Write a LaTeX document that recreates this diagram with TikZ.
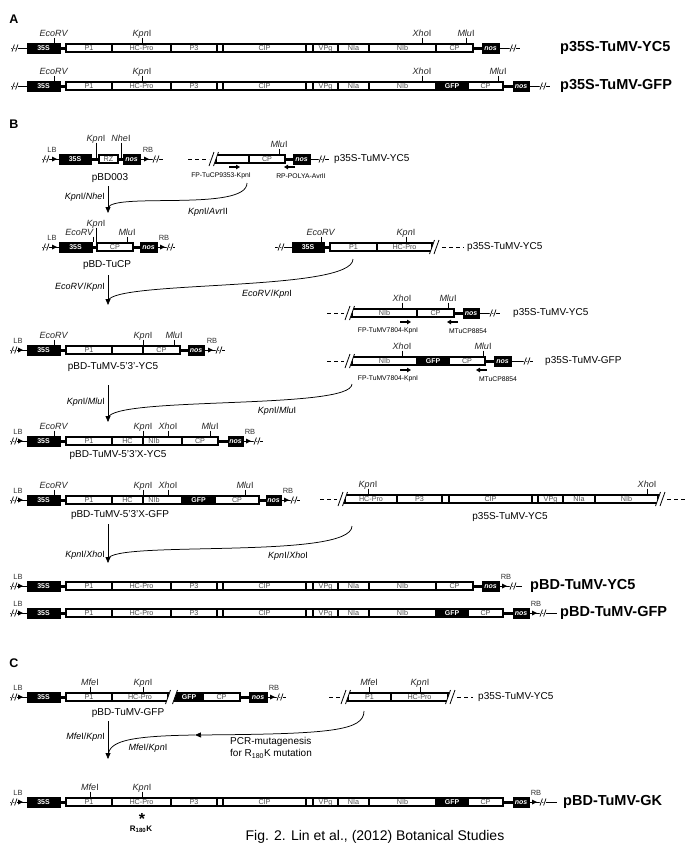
\documentclass[tikz,border=0pt]{standalone}
\usepackage{fontspec}
\setmainfont{Liberation Sans}
\usetikzlibrary{arrows.meta}
\newcommand{\Kpn}{\textit{Kpn}I}
\newcommand{\Eco}{\textit{EcoRV}}
\newcommand{\Xho}{\textit{Xho}I}
\newcommand{\Mlu}{\textit{Mlu}I}
\newcommand{\Nhe}{\textit{Nhe}I}
\newcommand{\Mfe}{\textit{Mfe}I}
\newcommand{\Avr}{\textit{Avr}II}
\newcommand{\ws}[5]{\node[wseg, minimum width={(#3-#2)*1pt}] (#1) at ({(#2+#3)/2},#4) {#5};}
\newcommand{\bs}[5]{\node[bseg, minimum width={(#3-#2)*1pt}] (#1) at ({(#2+#3)/2},#4) {#5};}
\newcommand{\gs}[5]{\node[gseg, minimum width={(#3-#2)*1pt}] (#1) at ({(#2+#3)/2},#4) {#5};}
\newcommand{\site}[6]{\node[sitel] (#1) at (#2,#3-#5) {#4};\draw[tickl] ([yshift=-1.5pt]#1.base) -- (#2,#3-#6);}
\newcommand{\slsm}[2]{%
 \draw[white,line width=2.4pt] (#1-3,#2+3.5) -- (#1-0.6,#2-3.5) (#1+0.6,#2+3.5) -- (#1+3,#2-3.5);
 \draw[line width=0.7pt] (#1-3,#2+3.5) -- (#1-0.6,#2-3.5) (#1+0.6,#2+3.5) -- (#1+3,#2-3.5);}
\newcommand{\cutL}[2]{\fill[white] (#1-1,#2-5.4) -- (#1+1.93,#2-5.4) -- (#1-1,#2+2.8) -- cycle; \draw[line width=0.8pt] (#1-2.5,#2+7) -- (#1+2.5,#2-7);}
\newcommand{\cutR}[2]{\fill[white] (#1+1,#2+5.4) -- (#1-1.93,#2+5.4) -- (#1+1,#2-2.8) -- cycle; \draw[line width=0.8pt] (#1-2.5,#2+7) -- (#1+2.5,#2-7);}
\newcommand{\brkL}[2]{\cutL{#1}{#2}\draw[line width=0.8pt] (#1-7,#2+7) -- (#1-2,#2-7);}
\newcommand{\brkR}[2]{\cutR{#1}{#2}\draw[line width=0.8pt] (#1+2,#2+7) -- (#1+7,#2-7);}
\newcommand{\LBend}[6]{% name, xstart, xslash, xtip, xbox, y
 \draw[thinl] (#2,#6) -- (#5,#6);
 \fill (#4,#6) -- (#4-5,#6-2.5) -- (#4-5,#6+2.5) -- cycle;
 \slsm{#3}{#6}
 \node[bordl] (#1) at (#4-5,#6-7) {LB};}
\newcommand{\RBend}[6]{% name, xbox, xtip, xslash, xend, y
 \draw[thinl] (#2,#6) -- (#5,#6);
 \fill (#3,#6) -- (#3-5,#6-2.5) -- (#3-5,#6+2.5) -- cycle;
 \slsm{#4}{#6}
 \node[bordl] (#1) at (#3-1,#6-7) {RB};}
\newcommand{\fullcore}[2]{%
 \draw[linkl] (60,#2) -- (66,#2);
 \bs{#1s}{27}{60}{#2}{35S}
 \ws{#1p1}{66}{112}{#2}{P1}
 \ws{#1hc}{112}{171}{#2}{HC-Pro}
 \ws{#1p3}{171}{217}{#2}{P3}
 \ws{#1ka}{217}{223}{#2}{}
 \ws{#1ci}{223}{306}{#2}{CIP}
 \ws{#1kb}{306}{313}{#2}{}
 \ws{#1vp}{313}{338}{#2}{VPg}
 \ws{#1na}{338}{369}{#2}{NIa}
 \ws{#1nb}{369}{436}{#2}{NIb}}
\newcommand{\tailYC}[2]{%
 \draw[linkl] (473,#2) -- (482,#2);
 \ws{#1cp}{436}{473}{#2}{CP}
 \bs{#1no}{482}{499}{#2}{\textit{nos}}}
\newcommand{\tailGFP}[2]{%
 \draw[linkl] (503,#2) -- (513,#2);
 \gs{#1gf}{436}{468}{#2}{GFP}
 \ws{#1cp}{468}{503}{#2}{CP}
 \bs{#1no}{513}{529}{#2}{\textit{nos}}}
\begin{document}
\begin{tikzpicture}[x=1pt,y=-1pt,
 wseg/.style={draw=black, line width=1.1pt, fill=white, inner sep=0pt, minimum height=8pt, text height=5.6pt, text depth=1.2pt, font=\fontsize{7.2}{7.5}\selectfont, text=black!70},
 bseg/.style={draw=black, line width=0.4pt, fill=black, inner sep=0pt, minimum height=10pt, text height=5.6pt, text depth=1.2pt, text=white, font=\fontsize{7}{7.5}\selectfont\bfseries},
 gseg/.style={draw=black, line width=1.1pt, fill=black, inner sep=0pt, minimum height=8pt, text height=5.6pt, text depth=1.2pt, text=white, font=\fontsize{7}{7.5}\selectfont\bfseries},
 segtxt/.style={inner sep=0pt, text height=5.6pt, text depth=1.2pt, font=\fontsize{7.2}{7.5}\selectfont, text=black!70},
 linkl/.style={line width=3pt},
 thinl/.style={line width=0.8pt},
 dashl/.style={line width=0.8pt, dash pattern=on 4pt off 3pt},
 tickl/.style={line width=0.8pt},
 sitel/.style={font=\fontsize{9}{10}\selectfont, inner sep=0pt, anchor=base, text=black!85},
 bordl/.style={font=\fontsize{7.5}{8}\selectfont, inner sep=0pt, anchor=base, text=black!80},
 nml/.style={font=\fontsize{10}{11}\selectfont, inner sep=0pt},
 bignml/.style={font=\fontsize{14.5}{16}\selectfont\bfseries, anchor=west, inner sep=0pt},
 priml/.style={font=\fontsize{6.8}{7.5}\selectfont, inner sep=0pt},
 enzl/.style={font=\fontsize{9}{10}\selectfont, inner sep=0pt},
 flowl/.style={line width=0.75pt},
 flowarr/.style={line width=0.75pt, -{Triangle[width=5pt,length=6pt]}},
 primarr/.style={line width=1.3pt, -{Triangle[width=4.5pt,length=4pt]}},
 secl/.style={font=\fontsize{12.5}{14}\selectfont\bfseries, inner sep=0pt},
]
\useasboundingbox (0,0) rectangle (685,847);
\fill[white] (0,0) rectangle (685,847);

% ===== A =====
\node[secl] (lA) at (14,19) {A};
\draw[thinl] (11,48) -- (27,48); \slsm{15}{48}
\fullcore{a}{48}\tailYC{a}{48}
\draw[thinl] (499,48) -- (520,48); \slsm{513}{48}
\site{aS1}{54}{48}{\Eco}{12}{5}
\site{aS2}{142}{48}{\Kpn}{12}{4}
\site{aS3}{422}{48}{\Xho}{12}{4}
\site{aS4}{466}{48}{\Mlu}{12}{4}
\node[bignml] (aN) at (560,48) {p35S-TuMV-YC5};

\draw[thinl] (11,86) -- (27,86); \slsm{15}{86}
\fullcore{b}{86}\tailGFP{b}{86}
\draw[thinl] (529,86) -- (550,86); \slsm{543}{86}
\site{bS1}{54}{86}{\Eco}{12}{5}
\site{bS2}{142}{86}{\Kpn}{12}{4}
\site{bS3}{422}{86}{\Xho}{12}{4}
\site{bS4}{498}{86}{\Mlu}{12}{4}
\node[bignml] (bN) at (560,86) {p35S-TuMV-GFP};

% ===== B =====
\node[secl] (lB) at (14,124) {B};
% pBD003
\LBend{cL}{42}{46}{57}{59}{159}
\draw[linkl] (90,159) -- (99,159); \draw[linkl] (118,159) -- (123,159);
\bs{cs}{59}{91}{159}{35S}
\ws{crz}{99}{118}{159}{RZ}
\bs{cno}{123}{140}{159}{\textit{nos}}
\RBend{cR}{140}{149}{156}{163}{159}
\site{cS1}{96}{159}{\Kpn}{18}{1.5}
\site{cS2}{121}{159}{\Nhe}{18}{1.5}
\node[nml] (cN) at (110,178) {pBD003};
% CP fragment
\draw[dashl] (188,159) -- (209,159);
\ws{dx}{216}{249}{159}{}
\ws{dcp}{249}{285}{159}{CP}
\brkL{216}{159}
\draw[linkl] (285,159) -- (293,159);
\bs{dno}{293}{310}{159}{\textit{nos}}
\draw[thinl] (310,159) -- (329,159); \slsm{322}{159}
\site{dS1}{279}{159}{\Mlu}{12}{4}
\node[nml, anchor=west] (dN) at (334,159) {p35S-TuMV-YC5};
\draw[primarr] (229,167) -- (240,167);
\draw[primarr] (295,167) -- (284,167);
\node[priml] (dP1) at (221,176) {FP-TuCP9353-KpnI};
\node[priml] (dP2) at (301,176) {RP-POLYA-AvrII};
% arrow 1
\coordinate (s1) at (108,186); \coordinate (t1) at (108,213); \coordinate (c1) at (247,183);
\draw[flowarr] (s1) -- (t1);
\draw[flowl] (c1) .. controls (247,212) and (112,192) .. ([yshift=5pt]t1);
\node[enzl, anchor=east] (e1a) at (105,197) {\Kpn/\Nhe};
\node[enzl] (e1b) at (208,212) {\Kpn/\Avr};

% pBD-TuCP
\LBend{eL}{42}{46}{57}{59}{247}
\draw[linkl] (92,247) -- (97,247); \draw[linkl] (133,247) -- (140,247);
\bs{es}{59}{92}{247}{35S}
\ws{ecp}{97}{133}{247}{CP}
\bs{eno}{140}{157}{247}{\textit{nos}}
\RBend{eR}{157}{165}{170}{175}{247}
\node[sitel, anchor=base east] (eS1) at (94,235) {\Eco};
\draw[tickl] ([xshift=-1pt,yshift=-1.5pt]eS1.base east) -- (93,242);
\site{eS2}{96}{247}{\Kpn}{21}{0}
\site{eS3}{127}{247}{\Mlu}{12}{4}
\node[nml] (eN) at (107,265) {pBD-TuCP};
% P1 fragment
\draw[thinl] (275,247) -- (292,247); \slsm{281}{247}
\draw[linkl] (324,247) -- (330,247);
\bs{fs}{292}{324}{247}{35S}
\ws{fp1}{330}{377}{247}{P1}
\ws{fhc}{377}{432}{247}{HC-Pro}
\brkR{432}{247}
\draw[dashl] (442,247) -- (464,247);
\site{fS1}{321}{247}{\Eco}{12}{5}
\site{fS2}{406}{247}{\Kpn}{12}{4}
\node[nml, anchor=west] (fN) at (467,247) {p35S-TuMV-YC5};
% arrow 2
\coordinate (s2) at (108,275); \coordinate (t2) at (108,305); \coordinate (c2) at (353,259);
\draw[flowarr] (s2) -- (t2);
\draw[flowl] (c2) .. controls (353,292) and (112,280) .. ([yshift=4pt]t2);
\node[enzl, anchor=east] (e2a) at (105,287) {\Eco/\Kpn};
\node[enzl] (e2b) at (267,294) {\Eco/\Kpn};

% NIb-CP YC5
\draw[dashl] (327,313) -- (344,313);
\draw[linkl] (454,313) -- (463,313);
\ws{gnb}{352}{417}{313}{NIb}
\ws{gcp}{417}{454}{313}{CP}
\brkL{352}{313}
\bs{gno}{463}{479}{313}{\textit{nos}}
\draw[thinl] (479,313) -- (500,313); \slsm{493}{313}
\site{gS1}{402}{313}{\Xho}{12}{4}
\site{gS2}{448}{313}{\Mlu}{12}{4}
\draw[primarr] (400,322) -- (411,322);
\draw[primarr] (458,322) -- (447,322);
\node[priml] (gP1) at (388,331) {FP-TuMV7804-KpnI};
\node[priml] (gP2) at (468,331) {MTuCP8854};
\node[nml, anchor=west] (gN) at (513,313) {p35S-TuMV-YC5};
% NIb-GFP-CP
\draw[dashl] (327,361) -- (344,361);
\draw[linkl] (485,361) -- (494,361);
\ws{hnb}{352}{417}{361}{NIb}
\gs{hgf}{417}{449}{361}{GFP}
\ws{hcp}{449}{485}{361}{CP}
\brkL{352}{361}
\bs{hno}{494}{511}{361}{\textit{nos}}
\draw[thinl] (511,361) -- (533,361); \slsm{527}{361}
\site{hS1}{402}{361}{\Xho}{12}{4}
\site{hS2}{483}{361}{\Mlu}{12}{4}
\draw[primarr] (400,370) -- (411,370);
\draw[primarr] (487,370) -- (476,370);
\node[priml] (hP1) at (388,379) {FP-TuMV7804-KpnI};
\node[priml] (hP2) at (498,379) {MTuCP8854};
\node[nml, anchor=west] (hN) at (545,361) {p35S-TuMV-GFP};

% pBD-TuMV-5'3'-YC5
\LBend{iL}{10}{14}{23}{27}{350}
\draw[linkl] (60,350) -- (66,350); \draw[linkl] (180,350) -- (188,350);
\bs{is}{27}{60}{350}{35S}
\ws{ip1}{66}{112}{350}{P1}
\ws{ix}{112}{143}{350}{}
\ws{icp}{143}{180}{350}{CP}
\bs{ino}{188}{204}{350}{\textit{nos}}
\RBend{iR}{204}{213}{219}{225}{350}
\site{iS1}{54}{350}{\Eco}{12}{5}
\site{iS2}{143}{350}{\Kpn}{12}{4}
\site{iS3}{174}{350}{\Mlu}{12}{4}
\node[nml] (iN) at (113,367) {pBD-TuMV-5'3'-YC5};
% arrow 3
\coordinate (s3) at (108,385); \coordinate (t3) at (108,422); \coordinate (c3) at (352,384);
\draw[flowarr] (s3) -- (t3);
\draw[flowl] (c3) .. controls (352,410) and (112,396) .. ([yshift=4pt]t3);
\node[enzl, anchor=east] (e3a) at (105,402) {\Kpn/\Mlu};
\node[enzl] (e3b) at (277,411) {\Kpn/\Mlu};

% pBD-TuMV-5'3'X-YC5
\LBend{jL}{10}{14}{23}{27}{441}
\draw[linkl] (60,441) -- (66,441); \draw[linkl] (218,441) -- (228,441);
\bs{js}{27}{60}{441}{35S}
\ws{jp1}{66}{112}{441}{P1}
\ws{jhc}{112}{143}{441}{HC}
\ws{jnb}{143}{182}{441}{}
\node[segtxt] (jnbt) at (154,441) {NIb};
\ws{jcp}{182}{218}{441}{CP}
\bs{jno}{228}{243}{441}{\textit{nos}}
\RBend{jR}{243}{251}{257}{263}{441}
\site{jS1}{54}{441}{\Eco}{12}{5}
\site{jS2}{143}{441}{\Kpn}{12}{4}
\site{jS3}{168}{441}{\Xho}{12}{4}
\site{jS4}{210}{441}{\Mlu}{12}{4}
\node[nml] (jN) at (118,455) {pBD-TuMV-5'3'X-YC5};

% pBD-TuMV-5'3'X-GFP
\LBend{kL}{10}{14}{23}{27}{500}
\draw[linkl] (60,500) -- (66,500); \draw[linkl] (259,500) -- (266,500);
\bs{ks}{27}{60}{500}{35S}
\ws{kp1}{66}{112}{500}{P1}
\ws{khc}{112}{143}{500}{HC}
\ws{knb}{143}{182}{500}{}
\node[segtxt] (knbt) at (154,500) {NIb};
\gs{kgf}{182}{215}{500}{GFP}
\ws{kcp}{215}{259}{500}{CP}
\bs{kno}{266}{281}{500}{\textit{nos}}
\RBend{kR}{281}{289}{294}{300}{500}
\site{kS1}{54}{500}{\Eco}{12}{5}
\site{kS2}{143}{500}{\Kpn}{12}{4}
\site{kS3}{168}{500}{\Xho}{12}{4}
\site{kS4}{245}{500}{\Mlu}{12}{4}
\node[nml] (kN) at (120,515) {pBD-TuMV-5'3'X-GFP};

% HC-Pro..NIb fragment
\draw[dashl] (320,499) -- (337,499);
\ws{lhc}{345}{397}{499}{HC-Pro}
\ws{lp3}{397}{442}{499}{P3}
\ws{lka}{442}{449}{499}{}
\ws{lci}{449}{532}{499}{CIP}
\ws{lkb}{532}{538}{499}{}
\ws{lvp}{538}{563}{499}{VPg}
\ws{lna}{563}{595}{499}{NIa}
\ws{lnb}{595}{658}{499}{NIb}
\brkL{345}{499}
\brkR{658}{499}
\draw[dashl] (667,499) -- (685,499);
\site{lS1}{368}{499}{\Kpn}{12}{4}
\site{lS2}{647}{499}{\Xho}{12}{4}
\node[nml] (lN) at (510,517) {p35S-TuMV-YC5};
% arrow 4
\coordinate (s4) at (108,524); \coordinate (t4) at (108,563); \coordinate (c4) at (352,526);
\draw[flowarr] (s4) -- (t4);
\draw[flowl] (c4) .. controls (352,560) and (112,540) .. ([yshift=4pt]t4);
\node[enzl, anchor=east] (e4a) at (105,555) {\Kpn/\Xho};
\node[enzl] (e4b) at (288,556) {\Kpn/\Xho};

% pBD-TuMV-YC5
\LBend{mL}{10}{14}{23}{27}{586}
\fullcore{m}{586}\tailYC{m}{586}
\RBend{mR}{499}{507}{513}{522}{586}
\node[bignml] (mN) at (530,586) {pBD-TuMV-YC5};
% pBD-TuMV-GFP
\LBend{nL}{10}{14}{23}{27}{613}
\fullcore{n}{613}\tailGFP{n}{613}
\RBend{nR}{529}{537}{543}{557}{613}
\node[bignml] (nN) at (560,613) {pBD-TuMV-GFP};

% ===== C =====
\node[secl] (lC) at (14,663) {C};
\LBend{oL}{10}{14}{23}{27}{697}
\draw[linkl] (60,697) -- (66,697); \draw[linkl] (240,697) -- (249,697);
\bs{os}{27}{60}{697}{35S}
\ws{op1}{66}{112}{697}{P1}
\ws{ohc}{112}{168}{697}{HC-Pro}
\gs{ogf}{175}{203}{697}{GFP}
\ws{ocp}{203}{240}{697}{CP}
\cutR{168}{697}\cutL{175}{697}
\bs{ono}{249}{267}{697}{\textit{nos}}
\RBend{oR}{267}{275}{280}{286}{697}
\site{oS1}{90}{697}{\Mfe}{12}{4}
\site{oS2}{143}{697}{\Kpn}{12}{4}
\node[nml] (oN) at (128,713) {pBD-TuMV-GFP};
% P1-HC-Pro fragment
\draw[dashl] (329,697) -- (341,697);
\ws{pp1}{348}{391}{697}{P1}
\ws{phc}{391}{448}{697}{HC-Pro}
\brkL{348}{697}
\brkR{448}{697}
\draw[dashl] (457,697) -- (473,697);
\site{pS1}{369}{697}{\Mfe}{12}{4}
\site{pS2}{420}{697}{\Kpn}{12}{4}
\node[nml, anchor=west] (pN) at (478,697) {p35S-TuMV-YC5};
% arrow 5
\coordinate (s5) at (108,721); \coordinate (t5) at (108,759); \coordinate (c5) at (364,711); \coordinate (m5) at (195,735);
\draw[flowarr] (s5) -- (t5);
\draw[flowarr] (c5) .. controls (364,731) and (330,734) .. (m5);
\draw[flowl] (m5) .. controls (125,736) and (110,742) .. ([yshift=4pt]t5);
\node[enzl, anchor=east] (e5a) at (105,737) {\Mfe/\Kpn};
\node[enzl] (e5b) at (148,748) {\Mfe/\Kpn};
\node[font=\fontsize{10}{11}\selectfont, anchor=west, inner sep=0pt] (pcr1) at (230,742) {PCR-mutagenesis};
\node[font=\fontsize{10}{11}\selectfont, anchor=west, inner sep=0pt] (pcr2) at (230,754) {for R\textsubscript{180}K mutation};

% pBD-TuMV-GK
\LBend{qL}{10}{14}{23}{27}{802}
\fullcore{q}{802}\tailGFP{q}{802}
\RBend{qR}{529}{537}{543}{557}{802}
\site{qS1}{90}{802}{\Mfe}{12}{4}
\site{qS2}{142}{802}{\Kpn}{12}{4}
\node[bignml] (qN) at (563,802) {pBD-TuMV-GK};
\node[font=\fontsize{16}{16}\selectfont\bfseries, inner sep=0pt] (ast) at (142,819) {*};
\node[font=\fontsize{8}{9}\selectfont\bfseries, inner sep=0pt] (rk) at (141,829) {R\textsubscript{180}K};

\node[font=\fontsize{14}{16}\selectfont, inner sep=0pt] (cap) at (375,837) {Fig. 2. Lin et al., (2012) Botanical Studies};
\end{tikzpicture}
\end{document}
